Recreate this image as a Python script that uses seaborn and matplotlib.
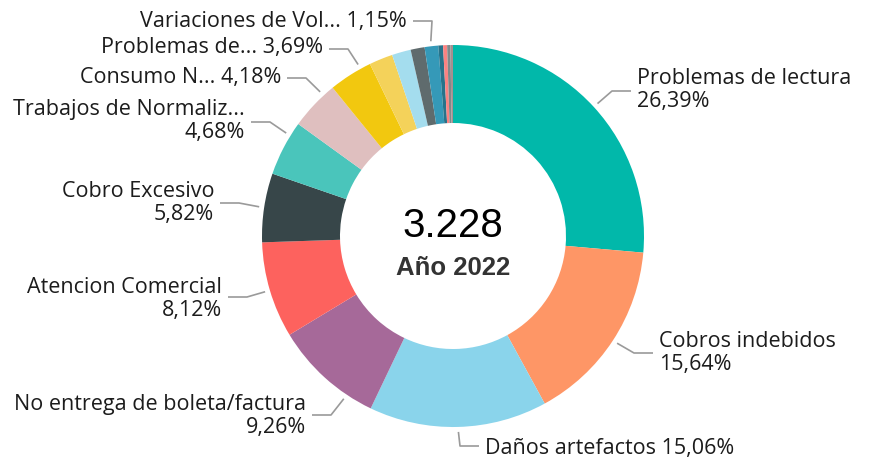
"""
plot.py - dona de reclamos por tipo, Año 2022
"""
import matplotlib
matplotlib.use("Agg")
import matplotlib.pyplot as plt
import numpy as np
import seaborn as sns

# --- datos ---
categorias = [
    "Problemas de lectura", "Cobros indebidos", "Daños artefactos",
    "No entrega de boleta/factura", "Atencion Comercial", "Cobro Excesivo",
    "Trabajos de Normaliz...", "Consumo N...", "Problemas de...",
    "Otro 1", "Otro 2", "Otro 3", "Variaciones de Vol...",
    "Otro 4", "Otro 5", "Otro 6", "Otro 7",
]
porcentajes = [26.39, 15.64, 15.06, 9.26, 8.12, 5.82, 4.68, 4.18, 3.69,
               2.00, 1.60, 1.18, 1.15, 0.40, 0.34, 0.28, 0.21]
colores = ["#01B8AA", "#FE9666", "#8AD4EB", "#A66999", "#FD625E", "#374649",
           "#4AC5BB", "#DFBFBF", "#F2C80F", "#F4D25A", "#A4DDEE", "#5F6B6D",
           "#3599B8", "#28738A", "#FB8281", "#7F898A", "#A78F8F"]
total = "3.228"
subtitulo = "Año 2022"

# categorias con etiqueta: (indice, x texto, y texto, alineacion, y linea, dos lineas, fraccion del sector)
etiquetas = [
    (0, 637, 90, "left", 92, True, 0.5),
    (1, 659, 353, "left", 354, True, 0.5),
    (2, 485, 449, "left", 447, False, 0.5),
    (3, 306, 416, "right", 416, True, 0.25),
    (4, 222, 299, "right", 298, True, 0.5),
    (5, 214, 203, "right", 204, True, 0.5),
    (6, 245, 121, "right", 123, True, 0.75),
    (7, 281, 78, "right", 79, False, 0.76),
    (8, 323, 48, "right", 50, False, 0.76),
    (12, 407, 21, "right", 22, False, 0.5),
]

W, H = 876, 464
CX, CY = 453, 237
R_OUT, R_IN = 191, 113

sns.set_theme(style="white")
plt.rcParams["font.family"] = ["Open Sans", "DejaVu Sans"]

fig = plt.figure(figsize=(W / 100, H / 100), dpi=100)
ax = fig.add_axes([0, 0, 1, 1])

ax.pie(porcentajes, colors=sns.color_palette(colores), startangle=-90,
       counterclock=True, center=(CX, CY), radius=R_OUT,
       wedgeprops=dict(width=R_OUT - R_IN, edgecolor="none", linewidth=0))
ax.set_xlim(0, W)
ax.set_ylim(H, 0)
ax.set_aspect("equal")
ax.axis("off")

acum = np.concatenate([[0], np.cumsum(porcentajes)]) / 100.0

for idx, tx, ty, ha, ly, dos, frac in etiquetas:
    ang = 2 * np.pi * (acum[idx] + frac * (acum[idx + 1] - acum[idx]))
    sx = CX + (R_OUT + 5) * np.sin(ang)
    sy = CY - (R_OUT + 5) * np.cos(ang)
    pct = f"{porcentajes[idx]:.2f}".replace(".", ",") + "%"
    texto = f"{categorias[idx]}\n{pct}" if dos else f"{categorias[idx]} {pct}"
    if ha == "left":
        ex = tx - 6
        kx = ex - 19
    else:
        ex = tx + 6
        kx = ex + 19
    ax.plot([sx, kx, ex], [sy, ly, ly], color="#9a9a9a", lw=1.2,
            solid_capstyle="butt")
    ax.text(tx, ty, texto, ha=ha, va="center", multialignment=ha,
            fontsize=15.5, color="#1c1c1c", linespacing=1.12)

ax.text(CX, 226, total, ha="center", va="center", fontsize=29,
        color="black", family=["Liberation Sans", "DejaVu Sans"])
ax.text(CX, 268, subtitulo, ha="center", va="center", fontsize=18.5,
        fontweight="bold", color="#333333",
        family=["Liberation Sans", "DejaVu Sans"])

fig.savefig("out.png", dpi=100)
